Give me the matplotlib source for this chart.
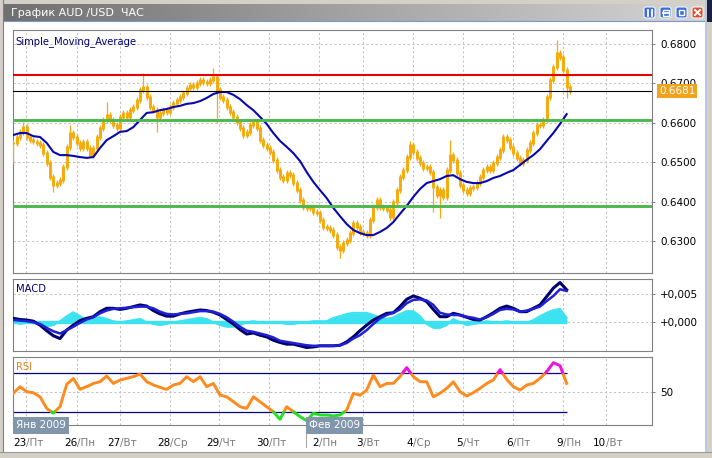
import numpy as np
import matplotlib
matplotlib.use("Agg")
import matplotlib.pyplot as plt
import matplotlib.transforms as mtrans
from matplotlib.patches import Rectangle, FancyBboxPatch
from matplotlib.colors import LinearSegmentedColormap

plt.rcParams['font.family'] = ['DejaVu Sans']

# ---------------- data ----------------
title = "График AUD /USD  ЧАС"

# price samples (hourly candles, sampled) ---------------------------------
close = [
    0.6549, 0.6564, 0.6577, 0.6589, 0.6564, 0.6556, 0.6553, 0.6549, 0.6544, 0.6523,
    0.6498, 0.6462, 0.6442, 0.6447, 0.6455, 0.6488, 0.6539, 0.6574, 0.6564, 0.6549,
    0.6536, 0.6551, 0.6536, 0.6518, 0.6536, 0.6564, 0.6587, 0.6607, 0.6620, 0.6607,
    0.6594, 0.6587, 0.6615, 0.6625, 0.6615, 0.6632, 0.6640, 0.6658, 0.6683, 0.6691,
    0.6665, 0.6640, 0.6632, 0.6615, 0.6625, 0.6632, 0.6627, 0.6640, 0.6650, 0.6658,
    0.6665, 0.6676, 0.6688, 0.6696, 0.6691, 0.6701, 0.6709, 0.6704, 0.6701, 0.6709,
    0.6716, 0.6683, 0.6665, 0.6658, 0.6640, 0.6627, 0.6615, 0.6602, 0.6587, 0.6569,
    0.6577, 0.6594, 0.6602, 0.6587, 0.6556, 0.6544, 0.6536, 0.6526, 0.6506, 0.6480,
    0.6462, 0.6455, 0.6473, 0.6467, 0.6447, 0.6429, 0.6404, 0.6386, 0.6384, 0.6386,
    0.6374, 0.6371, 0.6353, 0.6336, 0.6333, 0.6328, 0.6315, 0.6285, 0.6277, 0.6295,
    0.6303, 0.6320, 0.6346, 0.6336, 0.6323, 0.6320, 0.6315, 0.6353, 0.6386, 0.6404,
    0.6386, 0.6384, 0.6379, 0.6361, 0.6399, 0.6429, 0.6462, 0.6480, 0.6513, 0.6544,
    0.6526, 0.6511, 0.6498, 0.6485, 0.6488, 0.6475, 0.6437, 0.6417, 0.6429, 0.6412,
    0.6480, 0.6518, 0.6506, 0.6473, 0.6442, 0.6429, 0.6422, 0.6434, 0.6437, 0.6447,
    0.6462, 0.6480, 0.6488, 0.6480, 0.6498, 0.6513, 0.6531, 0.6564, 0.6556, 0.6539,
    0.6523, 0.6511, 0.6498, 0.6506, 0.6531, 0.6549, 0.6574, 0.6594, 0.6594, 0.6607,
    0.6665, 0.6709, 0.6742, 0.6777, 0.6767, 0.6734, 0.6691, 0.6681,
]
# long shadows (sample number, extreme price)
wick_idx = [1, 4, 13, 18, 29, 40, 44, 61, 62, 99, 120, 127, 129, 132, 164, 167]
wick_val = [0.6498, 0.6602, 0.6424, 0.6594, 0.6653, 0.6726, 0.6577, 0.6740,
            0.6600, 0.6257, 0.6554, 0.6374, 0.6358, 0.6556, 0.6810, 0.6663]

# Simple moving average (every second sample)
sma = [
    0.6569, 0.6574, 0.6574, 0.6566, 0.6564, 0.6549, 0.6526, 0.6518, 0.6518, 0.6516,
    0.6513, 0.6511, 0.6513, 0.6536, 0.6556, 0.6566, 0.6577, 0.6579, 0.6589, 0.6607,
    0.6625, 0.6627, 0.6632, 0.6635, 0.6640, 0.6643, 0.6648, 0.6650, 0.6655, 0.6663,
    0.6673, 0.6678, 0.6678, 0.6671, 0.6660, 0.6645, 0.6632, 0.6615, 0.6597, 0.6574,
    0.6554, 0.6539, 0.6523, 0.6503, 0.6475, 0.6450, 0.6429, 0.6409, 0.6384, 0.6363,
    0.6343, 0.6328, 0.6320, 0.6315, 0.6315, 0.6323, 0.6333, 0.6348, 0.6369, 0.6389,
    0.6412, 0.6432, 0.6447, 0.6452, 0.6457, 0.6465, 0.6467, 0.6457, 0.6450, 0.6447,
    0.6447, 0.6452, 0.6460, 0.6465, 0.6473, 0.6480, 0.6493, 0.6506, 0.6518, 0.6533,
    0.6554, 0.6574, 0.6597, 0.6622,
]

macd_main = [
    0.0007, 0.0005, 0.0004, 0.0002, -0.0005, -0.0015, -0.0024, -0.0029, -0.0014, -0.0005,
    0.0003, 0.0007, 0.0010, 0.0019, 0.0025, 0.0025, 0.0023, 0.0025, 0.0028, 0.0031,
    0.0029, 0.0021, 0.0015, 0.0011, 0.0011, 0.0015, 0.0018, 0.0020, 0.0022, 0.0021,
    0.0018, 0.0013, 0.0005, -0.0003, -0.0013, -0.0021, -0.0019, -0.0023, -0.0026, -0.0032,
    -0.0036, -0.0039, -0.0039, -0.0042, -0.0045, -0.0044, -0.0042, -0.0042, -0.0042, -0.0041,
    -0.0035, -0.0026, -0.0015, -0.0005, 0.0004, 0.0010, 0.0016, 0.0017, 0.0028, 0.0041,
    0.0047, 0.0043, 0.0037, 0.0023, 0.0010, 0.0010, 0.0016, 0.0013, 0.0009, 0.0005,
    0.0004, 0.0010, 0.0017, 0.0025, 0.0029, 0.0025, 0.0019, 0.0019, 0.0025, 0.0031,
    0.0046, 0.0061, 0.0071, 0.0058,
]
macd_signal = [
    0.0004, 0.0003, 0.0002, 0.0000, -0.0003, -0.0010, -0.0016, -0.0020, -0.0014, -0.0008,
    -0.0001, 0.0005, 0.0009, 0.0016, 0.0021, 0.0024, 0.0025, 0.0026, 0.0027, 0.0028,
    0.0028, 0.0025, 0.0019, 0.0015, 0.0014, 0.0015, 0.0016, 0.0018, 0.0020, 0.0020,
    0.0019, 0.0015, 0.0009, 0.0001, -0.0008, -0.0015, -0.0017, -0.0020, -0.0023, -0.0027,
    -0.0033, -0.0035, -0.0037, -0.0039, -0.0041, -0.0042, -0.0042, -0.0042, -0.0042, -0.0041,
    -0.0037, -0.0029, -0.0023, -0.0014, -0.0003, 0.0007, 0.0013, 0.0017, 0.0023, 0.0034,
    0.0040, 0.0041, 0.0039, 0.0031, 0.0017, 0.0014, 0.0013, 0.0013, 0.0010, 0.0008,
    0.0005, 0.0009, 0.0015, 0.0022, 0.0024, 0.0023, 0.0019, 0.0021, 0.0024, 0.0028,
    0.0038, 0.0047, 0.0059, 0.0056,
]
macd_hist = [
    0.0000, -0.0003, -0.0001, -0.0001, -0.0005, -0.0007, -0.0005, 0.0002, 0.0011, 0.0018,
    0.0011, 0.0004, 0.0008, 0.0009, 0.0006, 0.0002, 0.0000, 0.0002, 0.0004, 0.0006,
    0.0000, -0.0003, -0.0005, -0.0003, 0.0000, 0.0002, 0.0004, 0.0006, 0.0008, 0.0006,
    0.0000, -0.0005, -0.0008, -0.0008, -0.0005, 0.0000, 0.0002, 0.0000, 0.0000, 0.0000,
    -0.0001, -0.0003, -0.0003, -0.0001, 0.0000, 0.0002, 0.0002, 0.0002, 0.0008, 0.0011,
    0.0015, 0.0017, 0.0017, 0.0017, 0.0013, 0.0009, 0.0006, 0.0009, 0.0015, 0.0020,
    0.0020, 0.0011, -0.0003, -0.0010, -0.0010, -0.0005, 0.0006, 0.0000, -0.0005, -0.0003,
    -0.0001, 0.0002, 0.0000, 0.0000, 0.0002, 0.0000, -0.0001, -0.0001, 0.0004, 0.0011,
    0.0017, 0.0022, 0.0024, 0.0008,
]
rsi = [
    49, 55.7, 50.6, 49.6, 45.5, 33.8, 29.0, 35.5, 58, 64,
    53, 55.7, 59, 60.7, 66.5, 59, 62.4, 64.1, 65.8, 68.5,
    60.7, 57.4, 55, 53, 57.4, 59, 65.8, 60.7, 65.8, 55.7,
    59, 47.3, 45.5, 40.5, 35.5, 33.8, 45.5, 40.5, 35.5, 30.4,
    22.7, 35.5, 30.4, 25.4, 21.3, 28.8, 27.1, 27.1, 26.1, 27.1,
    32, 49, 47, 52.3, 67.5, 55.7, 59, 59, 65.8, 75,
    65.8, 60.7, 60.7, 45.5, 49, 54, 60.7, 50.6, 46.3, 49.6,
    54, 59, 62.4, 73, 63, 55.7, 52.3, 57.4, 59, 64.1,
    70.8, 80, 77, 59,
]

level_resist = 0.6721
level_last = 0.6681
level_support = [0.6607, 0.6390]
rsi_levels = [30, 70]

price_ticks = [0.6300, 0.6400, 0.6500, 0.6600, 0.6700, 0.6800]
macd_ticks = [0.0, 0.005]
macd_ticklabels = ["+0,000", "+0,005"]
rsi_ticks = [50]

day_pos = [4.8, 20.1, 33.0, 48.0, 62.7, 77.7, 92.7, 105.9, 120.9, 135.9, 150.9, 165.9, 178.8]
day_num = ["23", "26", "27", "28", "29", "30", "2", "3", "4", "5", "6", "9", "10"]
day_wd = ["Пт", "Пн", "Вт", "Ср", "Чт", "Пт", "Пн", "Вт", "Ср", "Чт", "Пт", "Пн", "Вт"]
month_labels = ["Янв 2009", "Фев 2009"]
month_pos = [0.9, 88.8]

# ---------------- layout ----------------
W, H = 712, 458
fig = plt.figure(figsize=(W / 100, H / 100), dpi=100)
fig.patch.set_facecolor('#D4D0C8')


def box(x0, y0, x1, y1):
    return [x0 / W, 1 - y1 / H, (x1 - x0) / W, (y1 - y0) / H]


bg = fig.add_axes([0, 0, 1, 1], zorder=0)
bg.axis('off')
bg.add_patch(Rectangle((4, 21), 701, 431, fc='white', ec='none'))
cmap = LinearSegmentedColormap.from_list('tb', ['#707070', '#A4A4A4', '#D4D4D4'])
bg.imshow(np.linspace(0, 1, 256)[None, :], extent=[4, 705, 21, 4], aspect='auto',
          cmap=cmap, zorder=1)
bg.plot([4, 705], [21, 21], color='#7D95C8', lw=0.8, zorder=2)
bg.plot([3, 3], [0, 452], color='#808080', lw=0.8)
bg.plot([0, 712], [452, 452], color='#9A9A9A', lw=0.8)
bg.add_patch(Rectangle((705, 0), 2, 452, fc='#B8C8E0', ec='none', zorder=2))
bg.add_patch(Rectangle((707, 0), 5, 22, fc='#1C2040', ec='none', zorder=2))
bg.text(11, 12.5, title, color='white', fontsize=8, va='center', ha='left', zorder=3)
bg.set_xlim(0, W)
bg.set_ylim(H, 0)

# window buttons
for j, bx in enumerate([644, 660, 676, 692]):
    fc = '#D9512C' if j == 3 else '#3D6ED8'
    bg.add_patch(FancyBboxPatch((bx, 7), 11, 11, boxstyle='round,pad=0,rounding_size=2',
                                fc=fc, ec='white', lw=0.7, zorder=3))
    if j == 0:
        bg.plot([bx + 3.5, bx + 3.5], [9.5, 15.5], color='white', lw=1.3, zorder=4)
        bg.plot([bx + 7.5, bx + 7.5], [9.5, 15.5], color='white', lw=1.3, zorder=4)
    elif j == 1:
        bg.add_patch(Rectangle((bx + 2.5, 9.5), 6, 6, fc='none', ec='white', lw=1.0, zorder=4))
        bg.plot([bx + 2.5, bx + 8.5], [12.5, 12.5], color='white', lw=1.3, zorder=4)
    elif j == 2:
        bg.add_patch(Rectangle((bx + 3, 10), 5, 5, fc='none', ec='white', lw=1.0, zorder=4))
    else:
        bg.plot([bx + 3, bx + 8], [10, 15], color='white', lw=1.4, zorder=4)
        bg.plot([bx + 3, bx + 8], [15, 10], color='white', lw=1.4, zorder=4)

ax = fig.add_axes(box(13, 30, 652, 273), zorder=2)
am = fig.add_axes(box(13, 279, 652, 351), zorder=2)
ar = fig.add_axes(box(13, 357, 652, 425), zorder=2)

grid_kw = dict(color='#C4C4C4', lw=0.75, dashes=(2.2, 2.2), zorder=0.5)
for a in (ax, am, ar):
    a.set_facecolor('white')
    for s in a.spines.values():
        s.set_color('#808080')
        s.set_linewidth(0.8)
    a.set_xlim(0.9, 192.6)
    a.tick_params(axis='x', bottom=False, labelbottom=False)
    a.yaxis.tick_right()
    a.tick_params(axis='y', length=2.5, width=0.7, color='#808080', pad=3.5,
                  labelsize=7.5, labelcolor='black')
    for p in day_pos:
        a.axvline(p, **grid_kw)

# ---------------- main price panel ----------------
ax.set_ylim(0.62188, 0.68355)
ax.set_yticks(price_ticks)
ax.set_yticklabels([f"{v:.4f}" for v in price_ticks])
for v in price_ticks:
    ax.axhline(v, **grid_kw)

orange = '#F7AA08'
cl = np.array(close)
xi = np.arange(1, len(cl) + 1)
op = np.r_[cl[0], cl[:-1]]
body_lo = np.minimum(op, cl)
body_hi = np.maximum(op, cl)
lo = body_lo - 0.0007
hi = body_hi + 0.0007
for k, v in zip(wick_idx, wick_val):
    lo[k - 1] = min(lo[k - 1], v)
    hi[k - 1] = max(hi[k - 1], v)
ax.vlines(xi, lo, hi, color=orange, lw=0.9, zorder=3)
ax.vlines(xi, body_lo - 0.0002, body_hi + 0.0002, color=orange, lw=2.1, zorder=3)

xs = np.arange(1, 2 * len(sma), 2)
ax.plot(xs, sma, color='#0808B0', lw=1.5, zorder=4)

ax.axhline(level_resist, color='#E80000', lw=1.5, zorder=5)
ax.axhline(level_last, color='black', lw=0.8, zorder=5)
for v in level_support:
    ax.axhline(v, color='#4DB84D', lw=2.1, zorder=5)

tr_price = mtrans.offset_copy(mtrans.blended_transform_factory(ax.transAxes, ax.transData),
                              fig=fig, x=7, y=0, units='dots')
ax.text(1.0, level_last, f"{level_last:.4f}", transform=tr_price, color='white',
        fontsize=7.5, va='center', ha='left', zorder=10, clip_on=False,
        bbox=dict(boxstyle='square,pad=0.18', fc='#F2A31C', ec='none'))
ax.text(0.004, 0.975, "Simple_Moving_Average", transform=ax.transAxes, color='#00007A',
        fontsize=7.2, va='top', ha='left', zorder=10)

# ---------------- MACD panel ----------------
am.set_ylim(-0.005125, 0.00773)
am.set_yticks(macd_ticks)
am.set_yticklabels(macd_ticklabels)
for v in macd_ticks:
    am.axhline(v, **grid_kw)
cyan = '#3CE2F0'
am.fill_between(xs, 0, macd_hist, color=cyan, lw=0, zorder=2)
am.plot(xs, macd_hist, color=cyan, lw=1.4, zorder=2)
am.hlines(0, xs[0], xs[-1], color=cyan, lw=2.4, zorder=2)
am.plot(xs, macd_main, color='#00006A', lw=2.2, zorder=3)
am.plot(xs, macd_signal, color='#2020D8', lw=1.8, zorder=4)
am.text(0.004, 0.93, "MACD", transform=am.transAxes, color='#00007A',
        fontsize=7.2, va='top', ha='left', zorder=10)

# ---------------- RSI panel ----------------
ar.set_ylim(17.0, 85.7)
ar.set_yticks(rsi_ticks)
ar.set_yticklabels([str(v) for v in rsi_ticks])
for v in rsi_ticks:
    ar.axhline(v, **grid_kw)
ar.hlines(rsi_levels, xs[0], xs[-1], color='#000080', lw=0.9, zorder=2)
xf = np.linspace(xs[0], xs[-1], 3000)
rf = np.interp(xf, xs, rsi)
ar.plot(xf, np.ma.masked_where((rf > 70) | (rf < 30), rf), color='#FF8A1E', lw=2.1, zorder=3)
ar.plot(xf, np.ma.masked_where(rf >= 30, rf), color='#22E022', lw=2.1, zorder=3)
ar.plot(xf, np.ma.masked_where(rf <= 70, rf), color='#F010E0', lw=2.1, zorder=3)
ar.text(0.004, 0.93, "RSI", transform=ar.transAxes, color='#E8801A',
        fontsize=7.2, va='top', ha='left', zorder=10)

# ---------------- overlay: dates, month boxes ----------------
ov = fig.add_axes([0, 0, 1, 1], zorder=20)
ov.set_xlim(0, W)
ov.set_ylim(H, 0)
ov.axis('off')
ov.patch.set_alpha(0)
trd = mtrans.blended_transform_factory(ar.transData, ov.transData)
for p, n, wd in zip(day_pos, day_num, day_wd):
    ov.text(p, 443, n, transform=trd, ha='right', va='center', fontsize=7.5, color='black')
    ov.text(p, 443, "/" + wd, transform=trd, ha='left', va='center', fontsize=7.5,
            color='#7A7A7A')
trm = mtrans.offset_copy(trd, fig=fig, x=3, y=0, units='dots')
for p, lab in zip(month_pos, month_labels):
    ov.text(p, 425.5, lab, transform=trm, ha='left', va='center', fontsize=7.5,
            color='white', bbox=dict(boxstyle='square,pad=0.3', fc='#8195AB', ec='none'))
ov.plot([month_pos[1], month_pos[1]], [427, 447], transform=trd, color='#A8A8A8', lw=0.8)

fig.savefig('out.png', dpi=100, facecolor=fig.get_facecolor())
